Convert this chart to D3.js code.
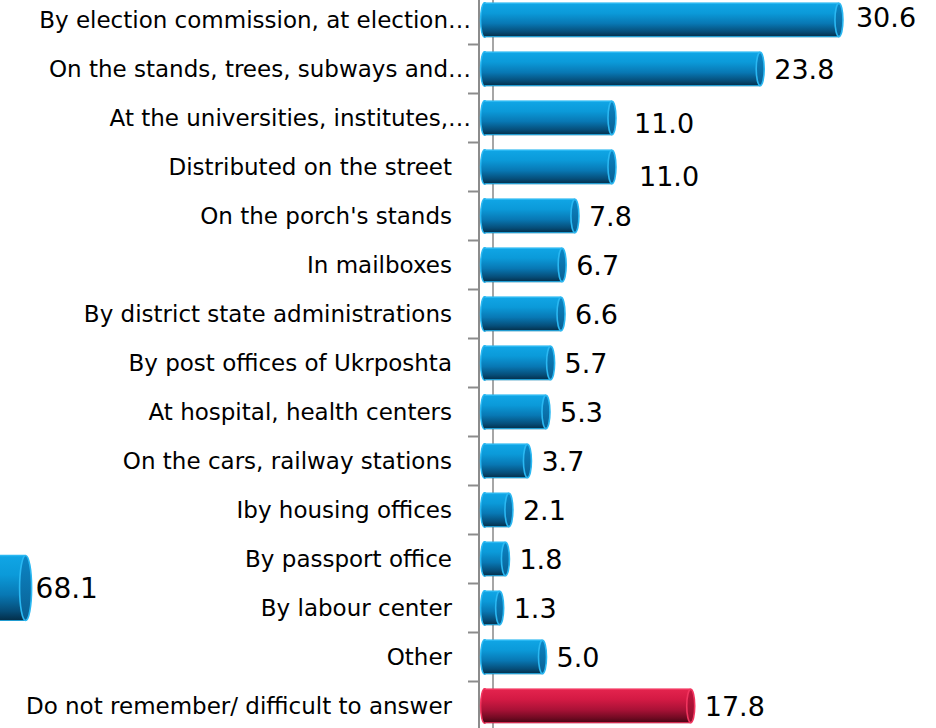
<!DOCTYPE html>
<html>
<head>
<meta charset="utf-8">
<script src="https://cdn.jsdelivr.net/npm/d3@7"></script>
<style>
  html, body { margin: 0; padding: 0; background: #ffffff; }
  svg { display: block; }
  text { font-family: "DejaVu Sans", Verdana, sans-serif; fill: #000; }
</style>
</head>
<body>
<svg id="chart" width="936" height="728"></svg>
<script>
// Where respondents saw the information (percent)
const categories = [
  "By election commission, at election…",
  "On the stands, trees, subways and…",
  "At the universities, institutes,…",
  "Distributed on the street",
  "On the porch's stands",
  "In mailboxes",
  "By district state administrations",
  "By post offices of Ukrposhta",
  "At hospital, health centers",
  "On the cars, railway stations",
  "Iby housing offices",
  "By passport office",
  "By labour center",
  "Other",
  "Do not remember/ difficult to answer"
];
const values = [30.6, 23.8, 11.0, 11.0, 7.8, 6.7, 6.6, 5.7, 5.3, 3.7, 2.1, 1.8, 1.3, 5.0, 17.8];
const highlighted = ["Do not remember/ difficult to answer"];

// Neighbouring panel, only its bar end shows at the left edge
const sideCategories = ["side"];
const sideValues = [68.1];

// Label nudges (dx, dy) for a few value labels
const labelNudge = {
  "By election commission, at election…": [3, -3],
  "At the universities, institutes,…": [8, 5],
  "Distributed on the street": [13, 9]
};

const W = 936, H = 728;
const svg = d3.select("#chart");
const defs = svg.append("defs");

function cylGradient(id, stops) {
  const g = defs.append("linearGradient").attr("id", id)
    .attr("x1", 0).attr("y1", 0).attr("x2", 0).attr("y2", 1);
  stops.forEach(s => g.append("stop").attr("offset", s[0]).attr("stop-color", s[1]));
}
cylGradient("blueBody", [[0, "#10a6e6"], [0.3, "#0b9ad9"], [0.6, "#0878b4"], [0.85, "#064d78"], [1, "#032c46"]]);
cylGradient("blueCap", [[0, "#0b86c6"], [1, "#0a5f92"]]);
cylGradient("redBody", [[0, "#e4244e"], [0.3, "#d41a44"], [0.6, "#ab1237"], [0.85, "#700a22"], [1, "#430412"]]);
cylGradient("redCap", [[0, "#c3163e"], [1, "#8e0e2c"]]);

const theme = {
  blue: { body: "url(#blueBody)", cap: "url(#blueCap)", edge: "#2ab8f2" },
  red:  { body: "url(#redBody)",  cap: "url(#redCap)",  edge: "#f2355f" }
};

// Scales
const x = d3.scaleLinear().domain([0, 40]).range([484.6, 947.8]);
const y = d3.scaleBand().domain(categories).range([-4.5, 730.5]).paddingInner(0.3).paddingOuter(0.15);

// Axis walls
svg.append("line").attr("x1", 493).attr("x2", 493).attr("y1", 0).attr("y2", H)
  .attr("stroke", "#a6a6a6").attr("stroke-width", 2);
svg.append("line").attr("x1", 479).attr("x2", 479).attr("y1", 0).attr("y2", H)
  .attr("stroke", "#8c8c8c").attr("stroke-width", 2);

// Category separators on the axis
const step = y.step();
const bounds = categories.slice(1).map(c => y(c) - y.paddingInner() * step / 2);
svg.append("g").selectAll("line").data(bounds).join("line")
  .attr("x1", 468).attr("x2", 479).attr("y1", d => d).attr("y2", d => d)
  .attr("stroke", "#8c8c8c").attr("stroke-width", 2);

// Cylinder bar
function cylinder(g, x0, x1, yTop, h, t, rx) {
  const cy = yTop + h / 2;
  g.append("ellipse").attr("cx", x0).attr("cy", cy).attr("rx", rx).attr("ry", h / 2)
    .attr("fill", t.body).attr("stroke", t.edge).attr("stroke-width", 1.5);
  g.append("rect").attr("x", x0).attr("y", yTop).attr("width", Math.max(0, x1 - x0)).attr("height", h)
    .attr("fill", t.body);
  g.append("line").attr("x1", x0).attr("x2", x1).attr("y1", yTop + 0.5).attr("y2", yTop + 0.5)
    .attr("stroke", t.edge).attr("stroke-width", 1.5);
  g.append("line").attr("x1", x0).attr("x2", x1).attr("y1", yTop + h - 0.5).attr("y2", yTop + h - 0.5)
    .attr("stroke", t.edge).attr("stroke-width", 1.2).attr("stroke-opacity", 0.8);
  g.append("ellipse").attr("cx", x1).attr("cy", cy).attr("rx", rx).attr("ry", h / 2 - 0.5)
    .attr("fill", t.cap).attr("stroke", t.edge).attr("stroke-width", 1.6);
}

const rows = categories.map((c, i) => ({ c, v: values[i] }));

const barsG = svg.append("g");
rows.forEach(d => {
  const g = barsG.append("g");
  const t = highlighted.includes(d.c) ? theme.red : theme.blue;
  cylinder(g, x(0), x(d.v), y(d.c), y.bandwidth(), t, 4);
});

// Value labels
svg.append("g").selectAll("text").data(rows).join("text")
  .attr("x", d => x(d.v) + 14 + (labelNudge[d.c] ? labelNudge[d.c][0] : 0))
  .attr("y", d => y(d.c) + y.bandwidth() / 2 + (labelNudge[d.c] ? labelNudge[d.c][1] : 0))
  .attr("dy", "0.36em")
  .attr("font-size", 27)
  .text(d => d.v.toFixed(1));

// Category labels
svg.append("g").selectAll("text").data(rows).join("text")
  .attr("x", d => d.c.endsWith("…") ? 471 : 452)
  .attr("y", d => y(d.c) + y.bandwidth() / 2)
  .attr("dy", "0.36em")
  .attr("text-anchor", "end")
  .attr("font-size", 23)
  .text(d => d.c);

// Neighbouring panel bar
const sx = d3.scaleLinear().domain([0, 100]).range([-763, -763 + 100 * (x(1) - x(0))]);
const sy = d3.scaleBand().domain(sideCategories).range([555, 621]);
sideCategories.forEach((c, i) => {
  cylinder(svg.append("g"), sx(0), sx(sideValues[i]), sy(c), sy.bandwidth(), theme.blue, 6);
  svg.append("text").attr("x", sx(sideValues[i]) + 10).attr("y", sy(c) + sy.bandwidth() / 2)
    .attr("dy", "0.36em").attr("font-size", 28).text(sideValues[i].toFixed(1));
});
</script>
</body>
</html>
